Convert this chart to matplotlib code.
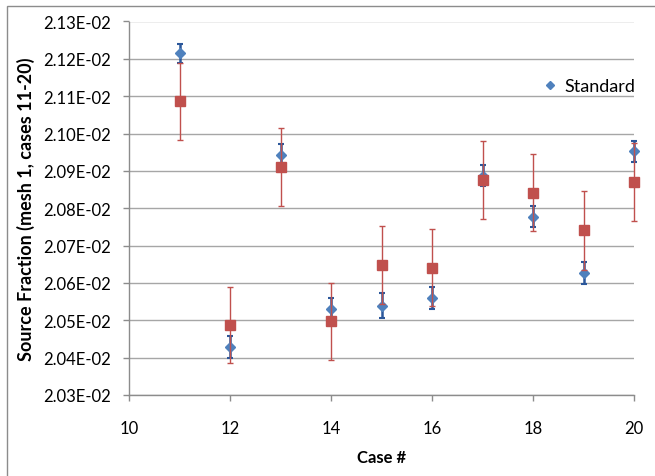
import matplotlib
matplotlib.use("Agg")
import matplotlib.pyplot as plt
import matplotlib.lines as mlines
from matplotlib.ticker import FuncFormatter, MultipleLocator
from matplotlib.patches import Rectangle

# Data (values in units of 1E-02)
cases = [11, 12, 13, 14, 15, 16, 17, 18, 19, 20]
standard = [2.1215, 2.0429, 2.0942, 2.0530, 2.0539, 2.0559, 2.0887, 2.0777, 2.0627, 2.0952]
standard_err = [0.0025, 0.0030, 0.0030, 0.0030, 0.0033, 0.0029, 0.0028, 0.0028, 0.0029, 0.0027]
other = [2.1087, 2.0488, 2.0910, 2.0498, 2.0648, 2.0641, 2.0876, 2.0842, 2.0741, 2.0871]
other_err = [0.0103, 0.0102, 0.0105, 0.0103, 0.0105, 0.0103, 0.0105, 0.0102, 0.0105, 0.0104]
series_label = "Standard"

scale = 1e-2
std_v = [v * scale for v in standard]
std_e = [v * scale for v in standard_err]
oth_v = [v * scale for v in other]
oth_e = [v * scale for v in other_err]

plt.rcParams['font.family'] = ['Lato', 'DejaVu Sans']

fig = plt.figure(figsize=(6.55, 4.77), dpi=100)
W, H = 655, 477
ax = fig.add_axes([129 / W, 1 - 396 / H, (634 - 129) / W, (396 - 22.5) / H])

# outer chart border
fig.patches.append(Rectangle((7 / W, -0.1), 1.2, 1 - 7 / H + 0.1, transform=fig.transFigure,
                             fill=False, edgecolor='#8c8c8c', linewidth=1.0))

blue = '#4F81BD'
blue_err_c = '#2B579A'
red = '#C0504D'

c1 = ax.errorbar(cases, std_v, yerr=std_e, fmt='D', color=blue, markersize=5.5,
                 ecolor=blue_err_c, elinewidth=1.8, capsize=2.5, capthick=1.5,
                 zorder=3)
c2 = ax.errorbar(cases, oth_v, yerr=oth_e, fmt='s', color=red, markersize=7,
                 ecolor=red, elinewidth=1.0, capsize=2.5, capthick=1.0, zorder=4)
for cont in (c1, c2):
    for art in cont.get_children():
        art.set_clip_on(False)

ax.set_xlim(10, 20)
ax.set_ylim(0.0203, 0.0213)
ax.xaxis.set_major_locator(MultipleLocator(2))
ax.yaxis.set_major_locator(MultipleLocator(0.0001))
ax.yaxis.set_major_formatter(FuncFormatter(lambda v, p: f"{v:.2E}"))

ax.grid(axis='y', color='#a6a6a6', linewidth=1.0)
ax.set_axisbelow(True)
for s in ['top', 'right']:
    ax.spines[s].set_visible(False)
for s in ['left', 'bottom']:
    ax.spines[s].set_color('#8c8c8c')
    ax.spines[s].set_linewidth(1.0)
ax.tick_params(axis='both', colors='#8c8c8c', labelcolor='black', labelsize=12, length=4.3, width=1)
ax.tick_params(axis='x', pad=14)
ax.tick_params(axis='y', pad=8.5)

ax.set_xlabel('Case #', fontsize=12, fontweight='bold')
ax.set_ylabel('Source Fraction (mesh 1, cases 11-20)', fontsize=13, fontweight='bold')
ax.xaxis.set_label_coords(0.5, (396 - 450) / 373.5)
ax.yaxis.set_label_coords((35 - 129) / 505, 0.5)

proxy = mlines.Line2D([], [], marker='D', linestyle='none', color=blue, markersize=4.5)
ax.legend([proxy], [series_label], loc='center right', bbox_to_anchor=(1.017, 0.827),
          frameon=False, fontsize=13, handletextpad=0.3, handlelength=1.0, borderaxespad=0)

fig.savefig('out.png', dpi=100)
